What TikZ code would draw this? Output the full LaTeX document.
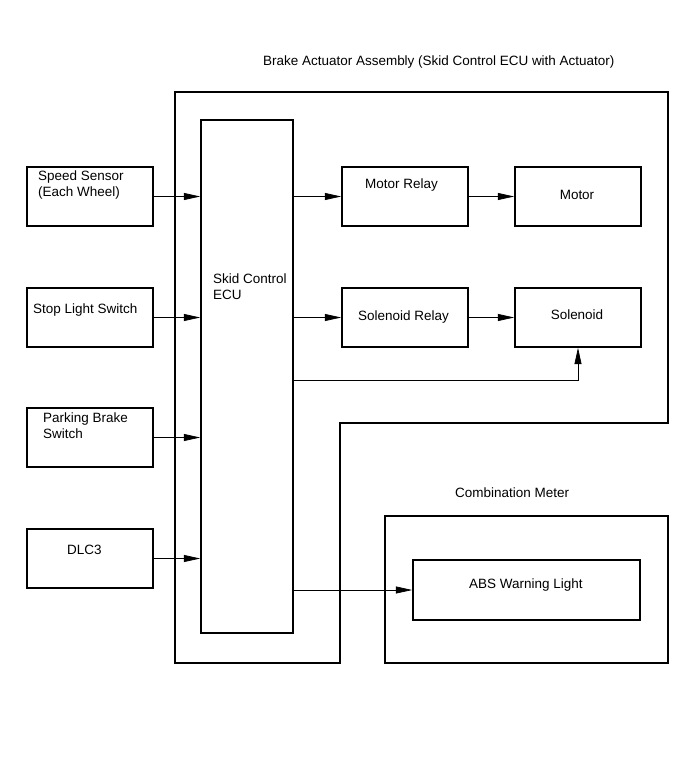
\documentclass[tikz,border=0pt]{standalone}
\usepackage{fontspec}
\setmainfont{Liberation Sans}
\usetikzlibrary{positioning, arrows.meta}

\begin{document}
\begin{tikzpicture}[x=0.03cm, y=-0.03cm,
    box/.style={draw, line width=1.4pt, minimum width=3.78cm, minimum height=1.77cm, inner sep=0pt},
    lbl/.style={inner sep=0pt, align=left, font=\fontsize{11.5}{13.6}\selectfont},
    arr/.style={line width=0.6pt, -{Triangle[length=14pt, width=6pt]}}]
    \useasboundingbox (0,0) rectangle (690,757);

    % outer frames
    \coordinate (A1) at (175,92);
    \coordinate (A2) at (668,423);
    \coordinate (A3) at (340,663);
    \draw[line width=1.4pt] (A1) -- (A1 -| A2) -- (A2) -- (A2 -| A3) -- (A3) -- (A3 -| A1) -- cycle;
    \node[lbl, anchor=west] (asm) at (263,62) {Brake Actuator Assembly (Skid Control ECU with Actuator)};

    \node[box, minimum width=8.49cm, minimum height=4.41cm] (cm) at (526.5,589.5) {};
    \node[lbl, anchor=west] (cmlbl) at (455,493) {Combination Meter};

    % ECU
    \node[box, minimum width=2.76cm, minimum height=15.39cm] (ecu) at (247,376.5) {};
    \node[lbl, anchor=west] (ecu-lbl) at (213,286.5) {Skid Control\\ECU};

    % inputs
    \node[box] (ss) at (90,196.5) {};
    \node[box] (sls) at (90,317.5) {};
    \node[box] (pbs) at (90,437.5) {};
    \node[box] (dlc) at (90,558.5) {};
    \node[lbl, anchor=west] (ss-lbl) at (38,185) {Speed Sensor\\(Each Wheel)};
    \node[lbl, anchor=west] (sls-lbl) at (33,310) {Stop Light Switch};
    \node[lbl, anchor=west] (pbs-lbl) at (43,426) {Parking Brake\\Switch};
    \node[lbl, anchor=west] (dlc-lbl) at (67,550) {DLC3};
    \foreach \n in {ss,sls,pbs,dlc}
    {
    \draw[arr] (\n.east) -- (\n.east -| ecu.west);
    }

    % outputs
    \node[box] (mr) at (405,196.5) {};
    \node[box] (mot) at (578,196.5) {};
    \node[box] (sr) at (405,317.5) {};
    \node[box] (sol) at (578,317.5) {};
    \node[box, minimum width=6.81cm, minimum height=1.8cm] (abs) at (526.5,590) {};
    \node[lbl, anchor=west] (mr-lbl) at (365,185) {Motor Relay};
    \node[lbl] (mot-lbl) at (577,195) {Motor};
    \node[lbl, anchor=west] (sr-lbl) at (358,317) {Solenoid Relay};
    \node[lbl] (sol-lbl) at (577,315) {Solenoid};
    \node[lbl, anchor=west] (abs-lbl) at (469,585) {ABS Warning Light};

    \draw[arr] (mr.west -| ecu.east) -- (mr.west);
    \draw[arr] (sr.west -| ecu.east) -- (sr.west);
    \draw[arr] (mr) -- (mot);
    \draw[arr] (sr) -- (sol);
    \coordinate (fb) at (578,380);
    \draw[arr] (fb -| ecu.east) -- (fb) -- (sol.south);
    \draw[arr] (abs.west -| ecu.east) -- (abs.west);
\end{tikzpicture}
\end{document}
